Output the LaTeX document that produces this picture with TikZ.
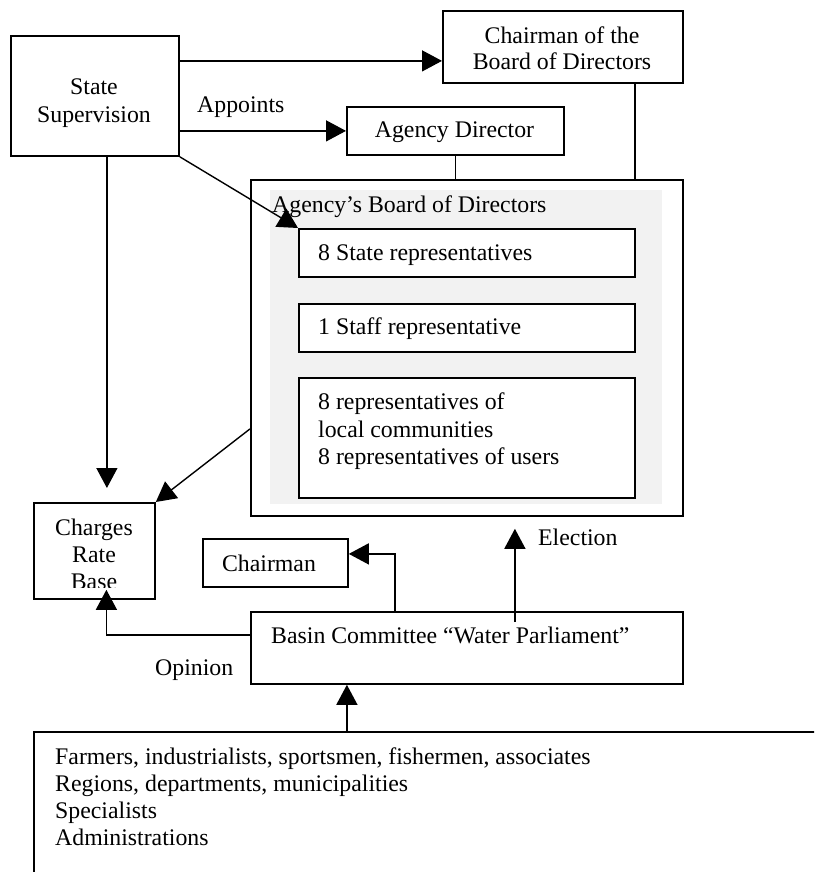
\documentclass[tikz,border=0pt]{standalone}
\usepackage{fontspec}
\setmainfont{Liberation Serif}
\usetikzlibrary{arrows.meta}
\definecolor{panel}{HTML}{F2F2F2}
\begin{document}
\begin{tikzpicture}[x=1pt,y=-1pt,
  box/.style={draw=black, line width=1.8pt, fill=white, rectangle, inner sep=0pt, anchor=north west},
  txt/.style={inner sep=0pt, font=\fontsize{23.8}{27}\selectfont},
  arr/.style={line width=1.4pt, -{Triangle[length=20pt,width=21pt]}},
  ln/.style={line width=1.4pt}]
\clip (0,0) rectangle (814,872);
\fill[white] (0,0) rectangle (814,872);

% boxes
\node[box, minimum width=168pt, minimum height=120pt] (SS) at (10,35) {};
\node[box, minimum width=240pt, minimum height=72pt] (CB) at (442,10) {};
\node[box, minimum width=217pt, minimum height=48pt] (AD) at (346,106) {};
\node[box, minimum width=432pt, minimum height=336pt] (OB) at (250,179) {};
\node[fill=panel, draw=none, inner sep=0pt, anchor=north west, minimum width=392pt, minimum height=314pt] (PN) at (270,190) {};
\node[box, minimum width=336pt, minimum height=48pt] (B1) at (298,228) {};
\node[box, minimum width=336pt, minimum height=48pt] (B2) at (298,303) {};
\node[box, minimum width=336pt, minimum height=120pt] (B3) at (298,377) {};
\node[box, minimum width=121pt, minimum height=96pt] (CR) at (33,502) {};
\node[box, minimum width=145pt, minimum height=48pt] (CH) at (202,538) {};
\node[box, minimum width=432pt, minimum height=72pt] (BC) at (250,611) {};
\node[box, minimum width=900pt, minimum height=300pt] (BT) at (33,731) {};

% texts
\node[txt, anchor=base] (t1) at (94,95) {State};
\node[txt, anchor=base] (t2) at (94,123) {Supervision};
\node[txt, anchor=base] (t3) at (562,44) {Chairman of the};
\node[txt, anchor=base] (t4) at (562,70) {Board of Directors};
\node[txt, anchor=base] (t5) at (454.5,138) {Agency Director};
\node[txt, anchor=base west] (t6) at (197,113) {Appoints};
\node[txt, anchor=base west] (t7) at (272,212) {Agency’s Board of Directors};
\node[txt, anchor=base west] (t8) at (318,260) {8 State representatives};
\node[txt, anchor=base west] (t9) at (318,334) {1 Staff representative};
\node[txt, anchor=base west] (t10) at (318,409) {8 representatives of};
\node[txt, anchor=base west] (t11) at (318,437) {local communities};
\node[txt, anchor=base west] (t12) at (318,464) {8 representatives of users};
\node[txt, anchor=base] (t13) at (94,535) {Charges};
\node[txt, anchor=base] (t14) at (94,562) {Rate};
\begin{scope}
\clip (33,502) rectangle (154,587);
\node[txt, anchor=base] (t15) at (94,589) {Base};
\end{scope}
\node[txt, anchor=base] (t16) at (269,571) {Chairman};
\node[txt, anchor=base west] (t17) at (271,643) {Basin Committee “Water Parliament”};
\node[txt, anchor=base west] (t18) at (538,545) {Election};
\node[txt, anchor=base west] (t19) at (155,675) {Opinion};
\node[txt, anchor=base west] (t20) at (55,764) {Farmers, industrialists, sportsmen, fishermen, associates};
\node[txt, anchor=base west] (t21) at (55,791) {Regions, departments, municipalities};
\node[txt, anchor=base west] (t22) at (55,818) {Specialists};
\node[txt, anchor=base west] (t23) at (55,845) {Administrations};

% helper coordinates
\coordinate (p1) at ([yshift=-14pt]CB.west);
\coordinate (v1) at ([xshift=12pt]SS.south);
\coordinate (v2) at ([yshift=14pt]CR.north);
\coordinate (d1) at ([yshift=-81pt]OB.west);
\coordinate (c1) at ([xshift=72pt]CB.south);
\coordinate (e1) at ([xshift=48pt,yshift=-11pt]BC.north);
\coordinate (e2) at ([yshift=-12pt]OB.south);
\coordinate (ch1) at ([yshift=9pt]CH.east);
\coordinate (bc1) at ([xshift=-72pt]BC.north);
\coordinate (o1) at ([yshift=13pt]BC.west);
\coordinate (o2) at ([xshift=12pt,yshift=10pt]CR.south);
\coordinate (b1) at ([xshift=-120pt]BC.south);

% connectors
\draw[arr] (SS.east |- p1) -- (p1);
\draw[arr] (SS.east |- AD.west) -- (AD.west);
\draw[arr] (SS.south east) -- (B1.north west);
\draw[arr] (v1) -- (v1 |- v2);
\draw[arr] (d1) -- (CR.north east);
\draw[ln] (AD.south) -- (AD.south |- OB.north);
\draw[ln] (c1) -- (c1 |- OB.north);
\draw[arr] (e1) -- (e1 |- e2);
\draw[arr] (bc1) |- (ch1);
\draw[arr] (o1) -| (o2);
\draw[arr] (b1 |- BT.north) -- (b1);
\end{tikzpicture}
\end{document}
